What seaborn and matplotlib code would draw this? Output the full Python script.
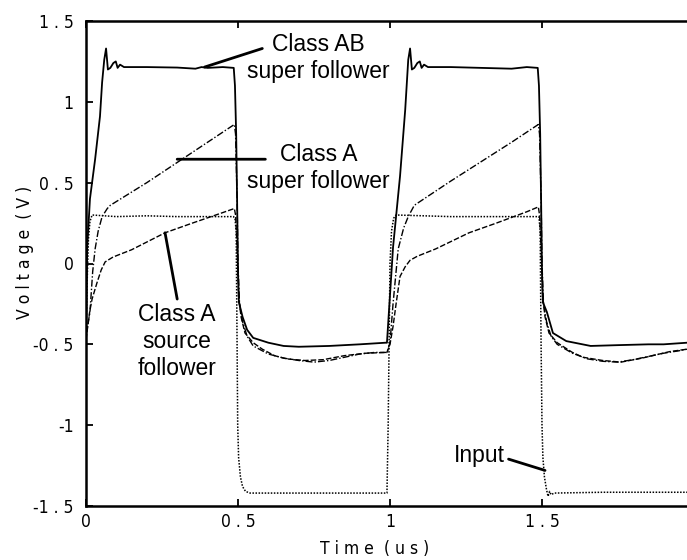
import matplotlib
matplotlib.use("Agg")
import matplotlib.pyplot as plt
import seaborn as sns
import pandas as pd

# ---------------- data ----------------
t_ab = [0, 0.004, 0.013, 0.030, 0.046, 0.053, 0.060, 0.066, 0.072, 0.080, 0.090, 0.098, 0.104,
        0.112, 0.125, 0.2, 0.3, 0.36, 0.38, 0.40, 0.45, 0.486, 0.490, 0.494, 0.497, 0.500,
        0.503, 0.515, 0.530, 0.550, 0.600, 0.650, 0.700, 0.800, 0.900, 0.985,
        0.990, 1.010, 1.033, 1.050, 1.060, 1.066, 1.072, 1.080, 1.090, 1.098, 1.104, 1.112,
        1.125, 1.2, 1.3, 1.4, 1.45, 1.486, 1.490, 1.494, 1.497, 1.500, 1.503, 1.516, 1.536,
        1.580, 1.660, 1.750, 1.850, 1.900, 1.977]
v_ab = [-0.45, 0.10, 0.40, 0.645, 0.91, 1.12, 1.26, 1.33, 1.20, 1.21, 1.24, 1.25, 1.21,
        1.23, 1.215, 1.215, 1.212, 1.205, 1.215, 1.21, 1.215, 1.21, 1.10, 0.80, 0.40, -0.05,
        -0.24, -0.33, -0.41, -0.46, -0.49, -0.51, -0.515, -0.51, -0.50, -0.49,
        -0.49, 0.10, 0.54, 0.95, 1.26, 1.33, 1.20, 1.21, 1.24, 1.25, 1.21, 1.23,
        1.215, 1.215, 1.21, 1.205, 1.215, 1.21, 1.10, 0.80, 0.40, -0.05, -0.24, -0.30, -0.43,
        -0.48, -0.51, -0.505, -0.50, -0.50, -0.49]

t_asf = [0, 0.006, 0.013, 0.022, 0.030, 0.040, 0.053, 0.070, 0.080, 0.2, 0.3, 0.4, 0.488,
         0.492, 0.497, 0.500, 0.505, 0.515, 0.530, 0.550, 0.600, 0.650, 0.700, 0.750, 0.800,
         0.850, 0.900, 0.950, 0.990, 1.000, 1.010, 1.027, 1.045, 1.060, 1.080, 1.2, 1.3, 1.4,
         1.488, 1.492, 1.497, 1.500, 1.505, 1.515, 1.530, 1.550, 1.600, 1.650, 1.700, 1.750,
         1.800, 1.850, 1.900, 1.950, 1.977]
v_asf = [-0.45, -0.38, -0.30, -0.05, 0.09, 0.20, 0.29, 0.34, 0.36, 0.50, 0.625, 0.75, 0.86,
         0.80, 0.40, 0.00, -0.25, -0.36, -0.45, -0.51, -0.56, -0.585, -0.60, -0.61, -0.60,
         -0.58, -0.56, -0.55, -0.55, -0.49, -0.25, 0.09, 0.22, 0.29, 0.36, 0.51, 0.63, 0.75,
         0.86, 0.80, 0.40, 0.00, -0.25, -0.36, -0.45, -0.50, -0.555, -0.59, -0.605, -0.61,
         -0.595, -0.575, -0.555, -0.54, -0.53]

t_src = [0, 0.005, 0.012, 0.020, 0.036, 0.050, 0.063, 0.089, 0.150, 0.260, 0.350, 0.450,
         0.488, 0.492, 0.497, 0.502, 0.510, 0.523, 0.550, 0.580, 0.620, 0.660, 0.720, 0.780,
         0.850, 0.920, 0.990, 1.000, 1.010, 1.020, 1.033, 1.050, 1.066, 1.090, 1.150, 1.260,
         1.350, 1.450, 1.488, 1.492, 1.497, 1.502, 1.510, 1.523, 1.550, 1.600, 1.635, 1.700,
         1.760, 1.830, 1.920, 1.977]
v_src = [-0.47, -0.40, -0.30, -0.22, -0.12, -0.04, 0.01, 0.04, 0.085, 0.19, 0.25, 0.315,
         0.34, 0.30, 0.10, -0.20, -0.33, -0.43, -0.49, -0.53, -0.57, -0.59, -0.60, -0.595,
         -0.57, -0.555, -0.55, -0.50, -0.39, -0.25, -0.08, -0.02, 0.02, 0.045, 0.09, 0.19,
         0.25, 0.32, 0.35, 0.30, 0.10, -0.20, -0.33, -0.43, -0.49, -0.55, -0.58, -0.60,
         -0.61, -0.585, -0.545, -0.53]

t_in = [0, 0.004, 0.008, 0.013, 0.020, 0.1, 0.2, 0.3, 0.4, 0.485, 0.490, 0.494, 0.497, 0.499,
        0.502, 0.508, 0.515, 0.525, 0.540, 0.7, 0.9, 0.990, 0.994, 0.997, 1.000, 1.005, 1.012,
        1.020, 1.2, 1.4, 1.490, 1.494, 1.497, 1.500, 1.503, 1.508, 1.515, 1.520, 1.525,
        1.530, 1.540, 1.7, 1.977]
v_in = [-0.45, -0.10, 0.15, 0.26, 0.30, 0.29, 0.295, 0.29, 0.29, 0.29, 0.28, 0.20, -0.50, -1.00,
        -1.20, -1.32, -1.38, -1.41, -1.42, -1.42, -1.42, -1.42, -1.00, -0.50, 0.00, 0.20, 0.28,
        0.30, 0.29, 0.29, 0.29, 0.20, -0.50, -1.00, -1.20, -1.32, -1.40, -1.44, -1.41,
        -1.43, -1.42, -1.415, -1.415]

x_ticks = [0, 0.5, 1, 1.5]
x_tick_labels = ["0", "0 . 5", "1", "1 . 5"]
y_ticks = [-1.5, -1, -0.5, 0, 0.5, 1, 1.5]
y_tick_labels = ["-1 . 5", "-1", "-0 . 5", "0", "0 . 5", "1", "1 . 5"]

# ---------------- figure ----------------
sns.set_style("ticks")
plt.rcParams['font.family'] = ['Liberation Sans', 'DejaVu Sans']
plt.rcParams['text.color'] = 'black'
plt.rcParams['axes.labelcolor'] = 'black'

fig = plt.figure(figsize=(6.87, 5.60), dpi=100)
ax = fig.add_axes([86/687, 1 - 506/560, 1 - 86/687, (506 - 21)/560])

sns.lineplot(x=t_in, y=v_in, ax=ax, color="black", lw=1.1, linestyle=(0, (1, 1)), sort=False)
sns.lineplot(x=t_src, y=v_src, ax=ax, color="black", lw=1.0, linestyle=(0, (4, 1.5)), sort=False)
sns.lineplot(x=t_asf, y=v_asf, ax=ax, color="black", lw=1.0, linestyle=(0, (5, 1.5, 1, 1.5)), sort=False)
sns.lineplot(x=t_ab, y=v_ab, ax=ax, color="black", lw=1.3, linestyle="-", sort=False)

ax.set_xlim(0, 1.977)
ax.set_ylim(-1.5, 1.5)
ax.set_xticks(x_ticks)
ax.set_yticks(y_ticks)

tick_font = dict(family='DejaVu Sans', stretch='condensed', fontsize=12.5, color='black')
ax.set_xticklabels(x_tick_labels, **tick_font)
ax.set_yticklabels(y_tick_labels, **tick_font)
ax.tick_params(axis='both', direction='in', length=5, width=1.3, colors='black',
               top=True, right=False)
ax.tick_params(axis='x', pad=5)
ax.tick_params(axis='y', pad=9)

for side in ['left', 'bottom', 'top']:
    ax.spines[side].set_linewidth(1.8)
    ax.spines[side].set_color('black')
ax.spines['right'].set_visible(False)

ax.set_xlabel("T i m e  ( u s )", **tick_font)
ax.set_ylabel("V o l t a g e  ( V )", **tick_font)
ax.xaxis.set_label_coords((375 - 86) / 601, -(540 - 506) / 485)
ax.yaxis.set_label_coords(-(86 - 34) / 601, (506 - 252) / 485)

# ---------------- annotations ----------------
fs = 16.5
ls = 1.22
line = dict(arrowprops=dict(arrowstyle='-', color='black', lw=2, shrinkA=0, shrinkB=0))
ax.annotate("", xy=(0.39, 1.215), xytext=(0.58, 1.33), **line)
ax.text(0.765, 1.272, "Class AB\nsuper follower", fontsize=fs, ha='center', va='center',
        linespacing=ls, color='black')

ax.annotate("", xy=(0.30, 0.645), xytext=(0.59, 0.645), **line)
ax.text(0.765, 0.59, "Class A\nsuper follower", fontsize=fs, ha='center', va='center',
        linespacing=ls, color='black')

ax.annotate("", xy=(0.26, 0.19), xytext=(0.30, -0.22), **line)
ax.text(0.30, -0.485, "Class A\nsource\nfollower", fontsize=fs, ha='center', va='center',
        linespacing=ls, color='black')

ax.annotate("", xy=(1.51, -1.28), xytext=(1.39, -1.21), **line)
ax.text(1.295, -1.185, "Input", fontsize=fs, ha='center', va='center', color='black')

fig.savefig("out.png", dpi=100)
